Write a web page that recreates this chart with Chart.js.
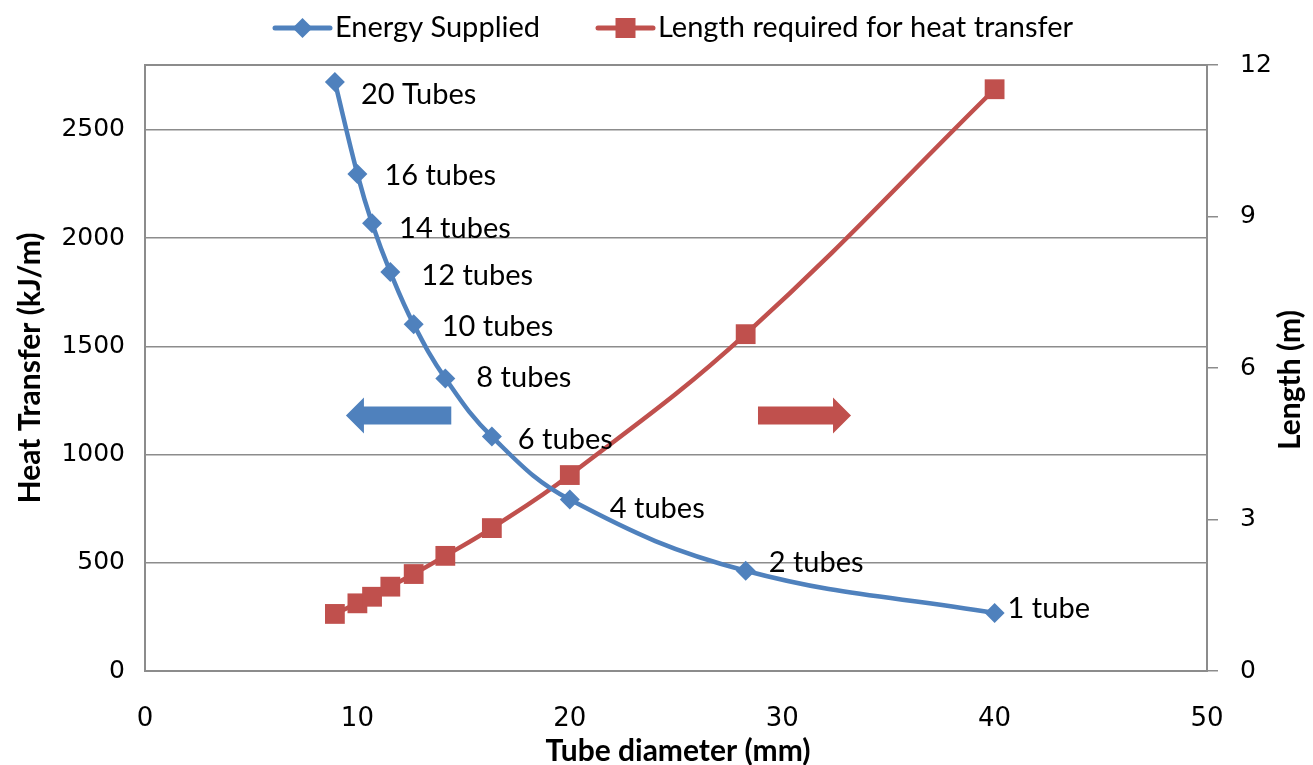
<!DOCTYPE html>
<html>
<head>
<meta charset="utf-8">
<script src="https://cdn.jsdelivr.net/npm/chart.js@4.4.1/dist/chart.umd.min.js"></script>
<style>
  html, body { margin: 0; padding: 0; background: #ffffff; }
  #wrap { width: 1313px; height: 765px; }
</style>
</head>
<body>
<div id="wrap"><canvas id="chart" width="1313" height="765"></canvas></div>
<script>
// Tube diameter (mm) for each tube count
const diameters = [8.94, 10, 10.69, 11.55, 12.65, 14.14, 16.33, 20, 28.28, 40];
// Heat transfer per metre (kJ/m)
const energySupplied = [2722, 2296, 2069, 1843, 1602, 1352, 1083, 792, 463, 268];
// Tube length needed (m)
const lengthRequired = [1.13, 1.34, 1.47, 1.67, 1.92, 2.28, 2.83, 3.88, 6.67, 11.52];
// Point annotations on the energy curve
const tubeLabels = ['20 Tubes', '16 tubes', '14 tubes', '12 tubes', '10 tubes',
                    '8 tubes', '6 tubes', '4 tubes', '2 tubes', '1 tube'];
// Axis ticks
const xTicks = [0, 10, 20, 30, 40, 50];
const heatTicks = [0, 500, 1000, 1500, 2000, 2500];
const lengthTicks = [0, 3, 6, 9, 12];

// Label placement (pixel offsets from each point)
const labelOffsets = [[26, 13], [27, 2], [27, 5], [31, 4], [28, 2],
                      [31, -1], [26, 3], [40, 9], [23, -8], [13, -4]];

const BLUE = '#4F81BD';
const RED = '#C0504D';
const GRID = '#8C8C8C';
const TEXT_FONT = 'Lato, "Open Sans", sans-serif';
const TICK_FONT = '"DejaVu Sans", Verdana, sans-serif';

const toPoints = (ys) => diameters.map((d, i) => ({ x: d, y: ys[i] }));
const plain = (v) => String(v);

const decorations = {
  id: 'decorations',
  afterDatasetsDraw(chart) {
    const { ctx, chartArea, scales } = chart;
    const x = scales.x, yL = scales.y;

    // top frame line
    ctx.save();
    ctx.strokeStyle = GRID;
    ctx.lineWidth = 2;
    ctx.beginPath();
    ctx.moveTo(chartArea.left, chartArea.top);
    ctx.lineTo(chartArea.right, chartArea.top);
    ctx.stroke();

    // tube count labels
    ctx.fillStyle = '#000';
    ctx.font = '29px ' + TEXT_FONT;
    ctx.textAlign = 'left';
    ctx.textBaseline = 'middle';
    const meta = chart.getDatasetMeta(0);
    meta.data.forEach((pt, i) => {
      const [dx, dy] = labelOffsets[i];
      ctx.fillText(tubeLabels[i], pt.x + dx, pt.y + dy);
    });

    // direction arrows
    const drawArrow = (x0, x1, yv, color) => {
      const px0 = x.getPixelForValue(x0);
      const px1 = x.getPixelForValue(x1);
      const py = yL.getPixelForValue(yv);
      const dir = Math.sign(px1 - px0);
      const head = 18, shaft = 9, wing = 18;
      const base = px1 - dir * head;
      ctx.fillStyle = color;
      ctx.beginPath();
      ctx.moveTo(px0, py - shaft);
      ctx.lineTo(base, py - shaft);
      ctx.lineTo(base, py - wing);
      ctx.lineTo(px1, py);
      ctx.lineTo(base, py + wing);
      ctx.lineTo(base, py + shaft);
      ctx.lineTo(px0, py + shaft);
      ctx.closePath();
      ctx.fill();
    };
    drawArrow(14.42, 9.46, 1180, BLUE);
    drawArrow(28.86, 33.24, 1180, RED);

    // axis titles
    ctx.fillStyle = '#000';
    ctx.font = 'bold 30px ' + TEXT_FONT;
    ctx.textAlign = 'center';
    ctx.textBaseline = 'middle';
    const midY = (chartArea.top + chartArea.bottom) / 2;
    ctx.save();
    ctx.translate(30, midY);
    ctx.rotate(-Math.PI / 2);
    ctx.fillText('Heat Transfer (kJ/m)', 0, 0);
    ctx.restore();
    ctx.save();
    ctx.translate(1290, midY + 12);
    ctx.rotate(-Math.PI / 2);
    ctx.fillText('Length (m)', 0, 0);
    ctx.restore();
    ctx.fillText('Tube diameter (mm)', (chartArea.left + chartArea.right) / 2 + 2, 751);

    // legend
    const legendItems = [
      { x: 275, color: BLUE, marker: 'diamond', text: 'Energy Supplied' },
      { x: 598, color: RED, marker: 'square', text: 'Length required for heat transfer' }
    ];
    const ly = 28;
    legendItems.forEach(item => {
      ctx.strokeStyle = item.color;
      ctx.lineWidth = 5;
      ctx.lineCap = 'round';
      ctx.beginPath();
      ctx.moveTo(item.x, ly);
      ctx.lineTo(item.x + 55, ly);
      ctx.stroke();
      ctx.fillStyle = item.color;
      const cx = item.x + 27.5;
      ctx.beginPath();
      if (item.marker === 'diamond') {
        ctx.moveTo(cx, ly - 10); ctx.lineTo(cx + 10, ly);
        ctx.lineTo(cx, ly + 10); ctx.lineTo(cx - 10, ly);
        ctx.closePath();
      } else {
        ctx.rect(cx - 10, ly - 10, 20, 20);
      }
      ctx.fill();
      ctx.fillStyle = '#000';
      ctx.font = '29px ' + TEXT_FONT;
      ctx.textAlign = 'left';
      ctx.fillText(item.text, item.x + 60, ly);
    });
    ctx.restore();
  }
};

new Chart(document.getElementById('chart'), {
  type: 'line',
  data: {
    datasets: [
      {
        label: 'Energy Supplied',
        data: toPoints(energySupplied),
        yAxisID: 'y',
        borderColor: BLUE,
        backgroundColor: BLUE,
        borderWidth: 4.5,
        pointStyle: 'rectRot',
        pointRadius: 10,
        pointBorderWidth: 0,
        tension: 0.4,
        fill: false
      },
      {
        label: 'Length required for heat transfer',
        data: toPoints(lengthRequired),
        yAxisID: 'y2',
        borderColor: RED,
        backgroundColor: RED,
        borderWidth: 4.5,
        pointStyle: 'rect',
        pointRadius: 14,
        pointBorderWidth: 0,
        tension: 0.4,
        fill: false
      }
    ]
  },
  options: {
    responsive: false,
    animation: false,
    layout: { padding: { top: 65, left: 0, right: 0, bottom: 0 } },
    plugins: { legend: { display: false }, tooltip: { enabled: false } },
    scales: {
      x: {
        type: 'linear',
        min: 0, max: 50,
        afterFit: (s) => { s.height = 94; },
        afterBuildTicks: (s) => { s.ticks = xTicks.map(v => ({ value: v })); },
        grid: { display: false, drawTicks: false },
        border: { display: true, color: GRID, width: 2 },
        ticks: { color: '#000', padding: 33, callback: plain, font: { family: TICK_FONT, size: 26 } }
      },
      y: {
        type: 'linear',
        position: 'left',
        min: 0, max: 2800,
        afterFit: (s) => { s.width = 145; },
        afterBuildTicks: (s) => { s.ticks = heatTicks.map(v => ({ value: v })); },
        grid: { color: GRID, lineWidth: 1.5, drawTicks: false },
        border: { display: true, color: GRID, width: 2 },
        ticks: { color: '#000', padding: 20, callback: plain, font: { family: TICK_FONT, size: 25 } }
      },
      y2: {
        type: 'linear',
        position: 'right',
        min: 0, max: 12,
        afterFit: (s) => { s.width = 106; },
        afterBuildTicks: (s) => { s.ticks = lengthTicks.map(v => ({ value: v })); },
        grid: { drawOnChartArea: false, color: GRID, lineWidth: 1.5, tickLength: 11 },
        border: { display: true, color: GRID, width: 2 },
        ticks: { color: '#000', padding: 22, callback: plain, font: { family: TICK_FONT, size: 25 } }
      }
    }
  },
  plugins: [decorations]
});
</script>
</body>
</html>
